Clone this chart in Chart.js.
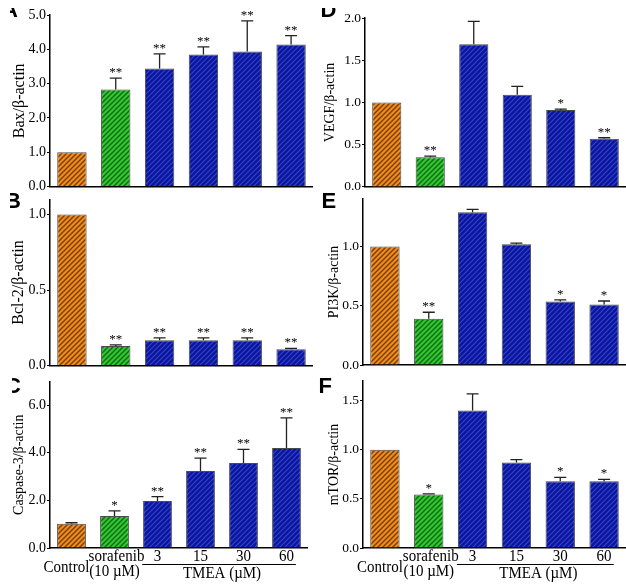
<!DOCTYPE html>
<html>
<head>
<meta charset="utf-8">
<script src="https://cdn.jsdelivr.net/npm/chart.js@4.4.1/dist/chart.umd.min.js"></script>
<style>
  html, body { margin: 0; padding: 0; background: #fff; }
  #fig { position: relative; width: 626px; height: 585px; overflow: hidden; }
  #fig canvas { position: absolute; }
  .clip { position: absolute; overflow: hidden; }
  .letter { position: absolute; font: bold 22px "Liberation Sans", Arial, sans-serif; line-height: 1; color: #000; }
</style>
</head>
<body>
<div id="fig"></div>
<script>
// groups on the x axis
const categories = ['Control', 'sorafenib', '3', '15', '30', '60'];
const sorafenibDose = '(10 µM)';
const tmeaLabel = 'TMEA (µM)';

// A - Bax
const baxMean = [1.0, 2.83, 3.44, 3.85, 3.94, 4.14];
const baxSem = [0, 0.33, 0.43, 0.22, 0.89, 0.26];
const baxSig = ['', '**', '**', '**', '**', '**'];
const baxTicks = [0, 1, 2, 3, 4, 5];

// B - Bcl-2
const bcl2Mean = [1.0, 0.13, 0.167, 0.167, 0.167, 0.109];
const bcl2Sem = [0, 0.007, 0.017, 0.017, 0.017, 0.005];
const bcl2Sig = ['', '**', '**', '**', '**', '**'];
const bcl2Ticks = [0, 0.5, 1.0];

// C - Caspase-3
const casp3Mean = [1.02, 1.34, 1.97, 3.24, 3.57, 4.20];
const casp3Sem = [0.04, 0.22, 0.19, 0.54, 0.57, 1.27];
const casp3Sig = ['', '*', '**', '**', '**', '**'];
const casp3Ticks = [0, 2, 4, 6];

// D - VEGF
const vegfMean = [1.0, 0.35, 1.69, 1.09, 0.91, 0.57];
const vegfSem = [0, 0.015, 0.27, 0.10, 0.012, 0.012];
const vegfSig = ['', '**', '', '', '*', '**'];
const vegfTicks = [0, 0.5, 1.0, 1.5, 2.0];

// E - PI3K
const pi3kMean = [1.0, 0.39, 1.29, 1.02, 0.535, 0.51];
const pi3kSem = [0, 0.055, 0.024, 0.008, 0.014, 0.03];
const pi3kSig = ['', '**', '', '', '*', '*'];
const pi3kTicks = [0, 0.5, 1.0];

// F - mTOR
const mtorMean = [1.0, 0.545, 1.40, 0.87, 0.68, 0.68];
const mtorSem = [0, 0.006, 0.17, 0.03, 0.04, 0.018];
const mtorSig = ['', '*', '', '', '*', '*'];
const mtorTicks = [0, 0.5, 1.0, 1.5];

const serif = '"Liberation Serif", "Times New Roman", serif';

// panel boxes (canvas position, plot area inside it)
const panels = [
  {letter: 'A', title: 'Bax/β-actin', mean: baxMean, sem: baxSem, sig: baxSig, ticks: baxTicks, max: 5,
   left: 0, top: 0, w: 313, h: 196, areaTop: 15, areaBottom: 188, axisW: 50, titleSize: 16, tickSize: 14, titleX: 20},
  {letter: 'D', title: 'VEGF/β-actin', mean: vegfMean, sem: vegfSem, sig: vegfSig, ticks: vegfTicks, max: 2,
   left: 313, top: 0, w: 313, h: 196, areaTop: 18, areaBottom: 187, axisW: 52, titleSize: 14, tickSize: 13.5, titleX: 17},
  {letter: 'B', title: 'Bcl-2/β-actin', mean: bcl2Mean, sem: bcl2Sem, sig: bcl2Sig, ticks: bcl2Ticks, max: 1.1,
   left: 0, top: 190, w: 313, h: 185, areaTop: 5, areaBottom: 177, axisW: 50, titleSize: 16, tickSize: 14, titleX: 19},
  {letter: 'E', title: 'PI3K/β-actin', mean: pi3kMean, sem: pi3kSem, sig: pi3kSig, ticks: pi3kTicks, max: 1.4,
   left: 313, top: 190, w: 313, h: 185, areaTop: 5, areaBottom: 175, axisW: 50, titleSize: 14, tickSize: 13.5, titleX: 21},
  {letter: 'C', title: 'Caspase-3/β-actin', mean: casp3Mean, sem: casp3Sem, sig: casp3Sig, ticks: casp3Ticks, max: 7,
   left: 0, top: 372, w: 308, h: 213, areaTop: 6, areaBottom: 176, axisW: 50, titleSize: 14, tickSize: 14, titleX: 19, xLabels: true},
  {letter: 'F', title: 'mTOR/β-actin', mean: mtorMean, sem: mtorSem, sig: mtorSig, ticks: mtorTicks, max: 1.7,
   left: 313, top: 372, w: 313, h: 213, areaTop: 6, areaBottom: 176, axisW: 50, titleSize: 14, tickSize: 13.5, titleX: 21, xLabels: true}
];

// panel letters, some of them cut by the crop of the original figure
const letterBoxes = {
  A: {clip: [10, 8, 20, 20], at: [2, -1]},
  D: {clip: [320, 8, 24, 20], at: [320.5, -1]},
  B: {clip: [10, 186, 20, 28], at: [5, 190]},
  E: {clip: [313, 186, 30, 28], at: [321.5, 190]},
  C: {clip: [12, 372, 20, 28], at: [5, 375]},
  F: {clip: [313, 372, 30, 28], at: [318.5, 375]}
};

function hatch(ctx, base, line, lw) {
  const c = document.createElement('canvas');
  c.width = c.height = 5;
  const g = c.getContext('2d');
  g.fillStyle = base;
  g.fillRect(0, 0, 5, 5);
  g.strokeStyle = line;
  g.lineWidth = lw;
  g.beginPath();
  g.moveTo(-1, 6); g.lineTo(6, -1);
  g.moveTo(-1, 1); g.lineTo(1, -1);
  g.moveTo(4, 6); g.lineTo(6, 4);
  g.stroke();
  return ctx.createPattern(c, 'repeat');
}

const errorBars = {
  id: 'errorBars',
  afterDatasetsDraw(chart, args, opts) {
    const {ctx, scales: {y}} = chart;
    const meta = chart.getDatasetMeta(0);
    ctx.save();
    meta.data.forEach((bar, i) => {
      const m = opts.mean[i], e = opts.sem[i];
      const yTop = y.getPixelForValue(m + e);
      if (e > 0) {
        const yBar = y.getPixelForValue(m);
        ctx.strokeStyle = '#222';
        ctx.lineWidth = 1.3;
        ctx.beginPath();
        ctx.moveTo(bar.x, yBar);
        ctx.lineTo(bar.x, yTop);
        ctx.moveTo(bar.x - 6, yTop);
        ctx.lineTo(bar.x + 6, yTop);
        ctx.stroke();
      }
      if (opts.sig[i]) {
        ctx.fillStyle = '#000';
        ctx.font = '13px ' + serif;
        ctx.textAlign = 'center';
        ctx.textBaseline = 'alphabetic';
        ctx.fillText(opts.sig[i], bar.x, yTop - 2);
      }
    });
    ctx.restore();
  }
};

function tallText(ctx, txt, x, y) {
  ctx.save();
  ctx.translate(x, y);
  ctx.scale(1, 1.15);
  ctx.fillText(txt, 0, 0);
  ctx.restore();
}

const groupLabels = {
  id: 'groupLabels',
  afterDraw(chart, args, opts) {
    if (!opts.show) return;
    const {ctx, scales: {x}, chartArea} = chart;
    const b = chartArea.bottom;
    const cx = i => x.getPixelForValue(i);
    const half = x.width / categories.length * 0.335;
    ctx.save();
    ctx.fillStyle = '#000';
    ctx.font = '15px ' + serif;
    ctx.textAlign = 'center';
    ctx.textBaseline = 'alphabetic';
    tallText(ctx, categories[0], cx(0) - 5, b + 24);
    tallText(ctx, categories[1], cx(1) + 2, b + 13);
    tallText(ctx, sorafenibDose, cx(1), b + 28);
    for (let i = 2; i < categories.length; i++) tallText(ctx, categories[i], cx(i), b + 13);
    ctx.strokeStyle = '#000';
    ctx.lineWidth = 1;
    ctx.beginPath();
    ctx.moveTo(cx(2) - half - 1, b + 16.5);
    ctx.lineTo(cx(5) + half - 5, b + 16.5);
    ctx.stroke();
    tallText(ctx, tmeaLabel, (cx(2) + cx(5)) / 2, b + 29.5);
    ctx.restore();
  }
};

const fig = document.getElementById('fig');

panels.forEach(p => {
  const cv = document.createElement('canvas');
  cv.width = p.w; cv.height = p.h;
  cv.style.left = p.left + 'px';
  cv.style.top = p.top + 'px';
  cv.style.width = p.w + 'px';
  cv.style.height = p.h + 'px';
  fig.appendChild(cv);
  const ctx = cv.getContext('2d');
  const fills = [
    hatch(ctx, '#ee8c1c', '#7a3c08', 1.4),
    hatch(ctx, '#33c633', '#0f6a12', 1.4),
    hatch(ctx, '#0b169c', '#3444cc', 1.1),
    hatch(ctx, '#0b169c', '#3444cc', 1.1),
    hatch(ctx, '#0b169c', '#3444cc', 1.1),
    hatch(ctx, '#0b169c', '#3444cc', 1.1)
  ];

  new Chart(ctx, {
    type: 'bar',
    data: {
      labels: categories,
      datasets: [{
        data: p.mean,
        backgroundColor: fills,
        borderColor: '#4a4a4a',
        borderWidth: 1,
        borderSkipped: 'bottom',
        barPercentage: 0.67,
        categoryPercentage: 1
      }]
    },
    options: {
      responsive: false,
      devicePixelRatio: 1,
      animation: false,
      layout: {padding: {top: p.areaTop, left: 0, right: 0, bottom: 0}},
      plugins: {
        legend: {display: false},
        tooltip: {enabled: false},
        errorBars: {mean: p.mean, sem: p.sem, sig: p.sig},
        groupLabels: {show: !!p.xLabels}
      },
      scales: {
        x: {
          grid: {display: false},
          border: {display: true, color: '#000', width: 1.5},
          ticks: {display: false},
          afterFit: s => { s.height = p.h - p.areaBottom; }
        },
        y: {
          min: 0,
          max: p.max,
          afterBuildTicks: s => { s.ticks = p.ticks.map(v => ({value: v})); },
          afterFit: s => { s.width = p.axisW; },
          grid: {display: true, drawOnChartArea: false, drawTicks: true, tickLength: 3, color: '#000', lineWidth: 1},
          border: {display: true, color: '#000', width: 1.5},
          ticks: {
            color: '#000',
            padding: 1,
            font: {family: serif, size: p.tickSize},
            callback: v => Number(v).toFixed(1)
          },
          title: {
            display: true,
            text: p.title,
            color: '#000',
            padding: {top: p.titleX - p.titleSize * 0.6, bottom: 0},
            font: {family: serif, size: p.titleSize, lineHeight: 1.2}
          }
        }
      }
    },
    plugins: [errorBars, groupLabels]
  });

  const lb = letterBoxes[p.letter];
  const clip = document.createElement('div');
  clip.className = 'clip';
  clip.style.left = lb.clip[0] + 'px';
  clip.style.top = lb.clip[1] + 'px';
  clip.style.width = lb.clip[2] + 'px';
  clip.style.height = lb.clip[3] + 'px';
  const t = document.createElement('div');
  t.className = 'letter';
  t.textContent = p.letter;
  t.style.left = (lb.at[0] - lb.clip[0]) + 'px';
  t.style.top = (lb.at[1] - lb.clip[1]) + 'px';
  clip.appendChild(t);
  fig.appendChild(clip);
});
</script>
</body>
</html>
